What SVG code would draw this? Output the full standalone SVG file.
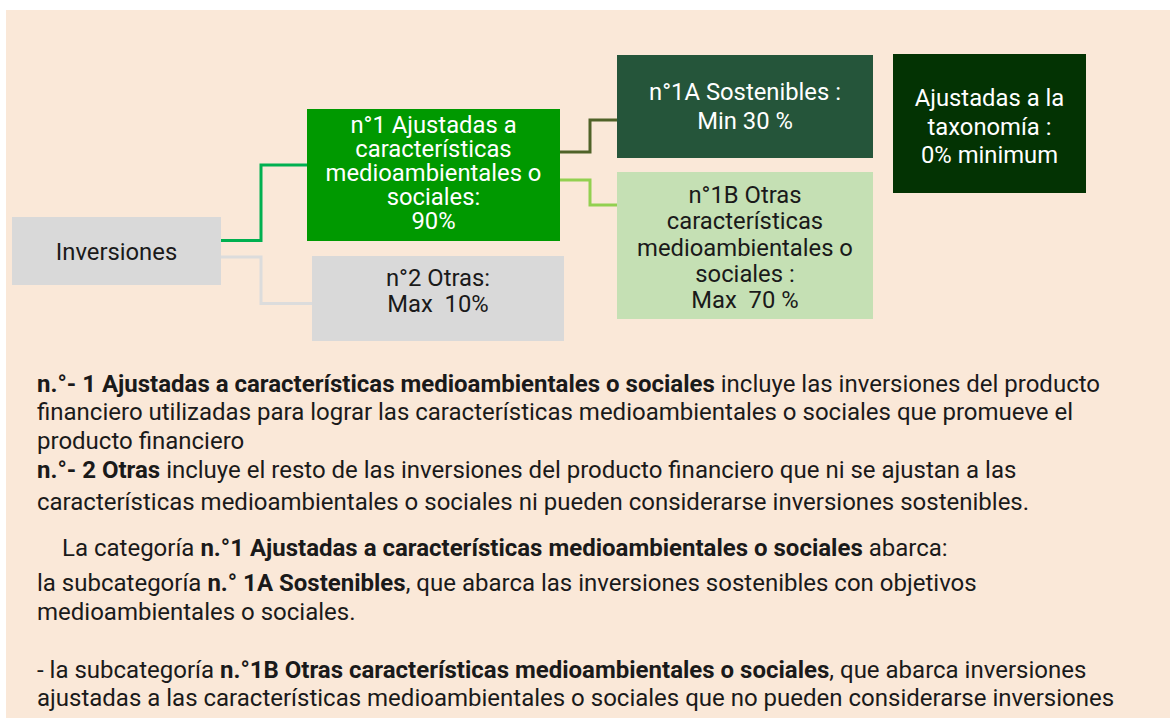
<svg xmlns="http://www.w3.org/2000/svg" width="1175" height="718" viewBox="0 0 1175 718">
<style>
.nt{font-family:Roboto,"Liberation Sans",sans-serif;font-size:23.8px;text-anchor:middle}
.w{fill:#ffffff}
.k{fill:#1a1a1a}
.bt{font-family:Roboto,"Liberation Sans",sans-serif;font-size:24px;fill:#1a1a1a}
.b{font-weight:bold}
.c{fill:none;stroke-width:3}
</style>
<rect x="0" y="0" width="1175" height="718" fill="#ffffff"/>
<rect x="6" y="10" width="1164" height="708" fill="#fae8d8"/>
<g id="connectors">
<polyline class="c" stroke="#00b050" points="221,240.5 261,240.5 261,165 307,165"/>
<polyline class="c" stroke="#dcdcdc" points="221,257 261,257 261,303.5 312,303.5"/>
<polyline class="c" stroke="#4f6228" points="560,152 590,152 590,120 617,120"/>
<polyline class="c" stroke="#92d050" points="560,180 590,180 590,205 617,205"/>
</g>
<g id="inversiones">
<rect x="12" y="217" width="209" height="68" fill="#d9d9d9"/>
<text class="nt k" x="116.5" y="260">Inversiones</text>
</g>
<g id="n1">
<rect x="307" y="109" width="253" height="132" fill="#009900"/>
<text class="nt w" x="433.5" y="133">n°1 Ajustadas a</text>
<text class="nt w" x="433.5" y="157">características</text>
<text class="nt w" x="433.5" y="181">medioambientales o</text>
<text class="nt w" x="433.5" y="205">sociales:</text>
<text class="nt w" x="433.5" y="229">90%</text>
</g>
<g id="n2">
<rect x="312" y="256" width="252" height="85" fill="#d9d9d9"/>
<text class="nt k" x="438" y="286">n°2 Otras:</text>
<text class="nt k" x="438" y="312" xml:space="preserve">Max  10%</text>
</g>
<g id="n1a">
<rect x="617" y="55" width="256" height="103" fill="#25553a"/>
<text class="nt w" x="745" y="100">n°1A Sostenibles :</text>
<text class="nt w" x="745" y="129">Min 30 %</text>
</g>
<g id="taxonomia">
<rect x="893" y="54" width="193" height="139" fill="#033303"/>
<text class="nt w" x="989.5" y="106">Ajustadas a la</text>
<text class="nt w" x="989.5" y="135">taxonomía :</text>
<text class="nt w" x="989.5" y="163">0% minimum</text>
</g>
<g id="n1b">
<rect x="617" y="172" width="256" height="147" fill="#c5e0b4"/>
<text class="nt k" x="745" y="203">n°1B Otras</text>
<text class="nt k" x="745" y="229">características</text>
<text class="nt k" x="745" y="256">medioambientales o</text>
<text class="nt k" x="745" y="282">sociales :</text>
<text class="nt k" x="745" y="308" xml:space="preserve">Max  70 %</text>
</g>
<g id="body">
<text class="bt" x="37" y="392"><tspan class="b">n.°- 1 Ajustadas a características medioambientales o sociales</tspan> incluye las inversiones del producto</text>
<text class="bt" x="37" y="420">financiero utilizadas para lograr las características medioambientales o sociales que promueve el</text>
<text class="bt" x="37" y="449">producto financiero</text>
<text class="bt" x="37" y="478"><tspan class="b">n.°- 2 Otras</tspan> incluye el resto de las inversiones del producto financiero que ni se ajustan a las</text>
<text class="bt" x="37" y="510">características medioambientales o sociales ni pueden considerarse inversiones sostenibles.</text>
<text class="bt" x="62" y="556">La categoría <tspan class="b">n.°1 Ajustadas a características medioambientales o sociales</tspan> abarca:</text>
<text class="bt" x="37" y="591">la subcategoría <tspan class="b">n.° 1A Sostenibles</tspan>, que abarca las inversiones sostenibles con objetivos</text>
<text class="bt" x="37" y="620">medioambientales o sociales.</text>
<text class="bt" x="37" y="678">- la subcategoría <tspan class="b">n.°1B Otras características medioambientales o sociales</tspan>, que abarca inversiones</text>
<text class="bt" x="37" y="706">ajustadas a las características medioambientales o sociales que no pueden considerarse inversiones</text>
</g>
</svg>
